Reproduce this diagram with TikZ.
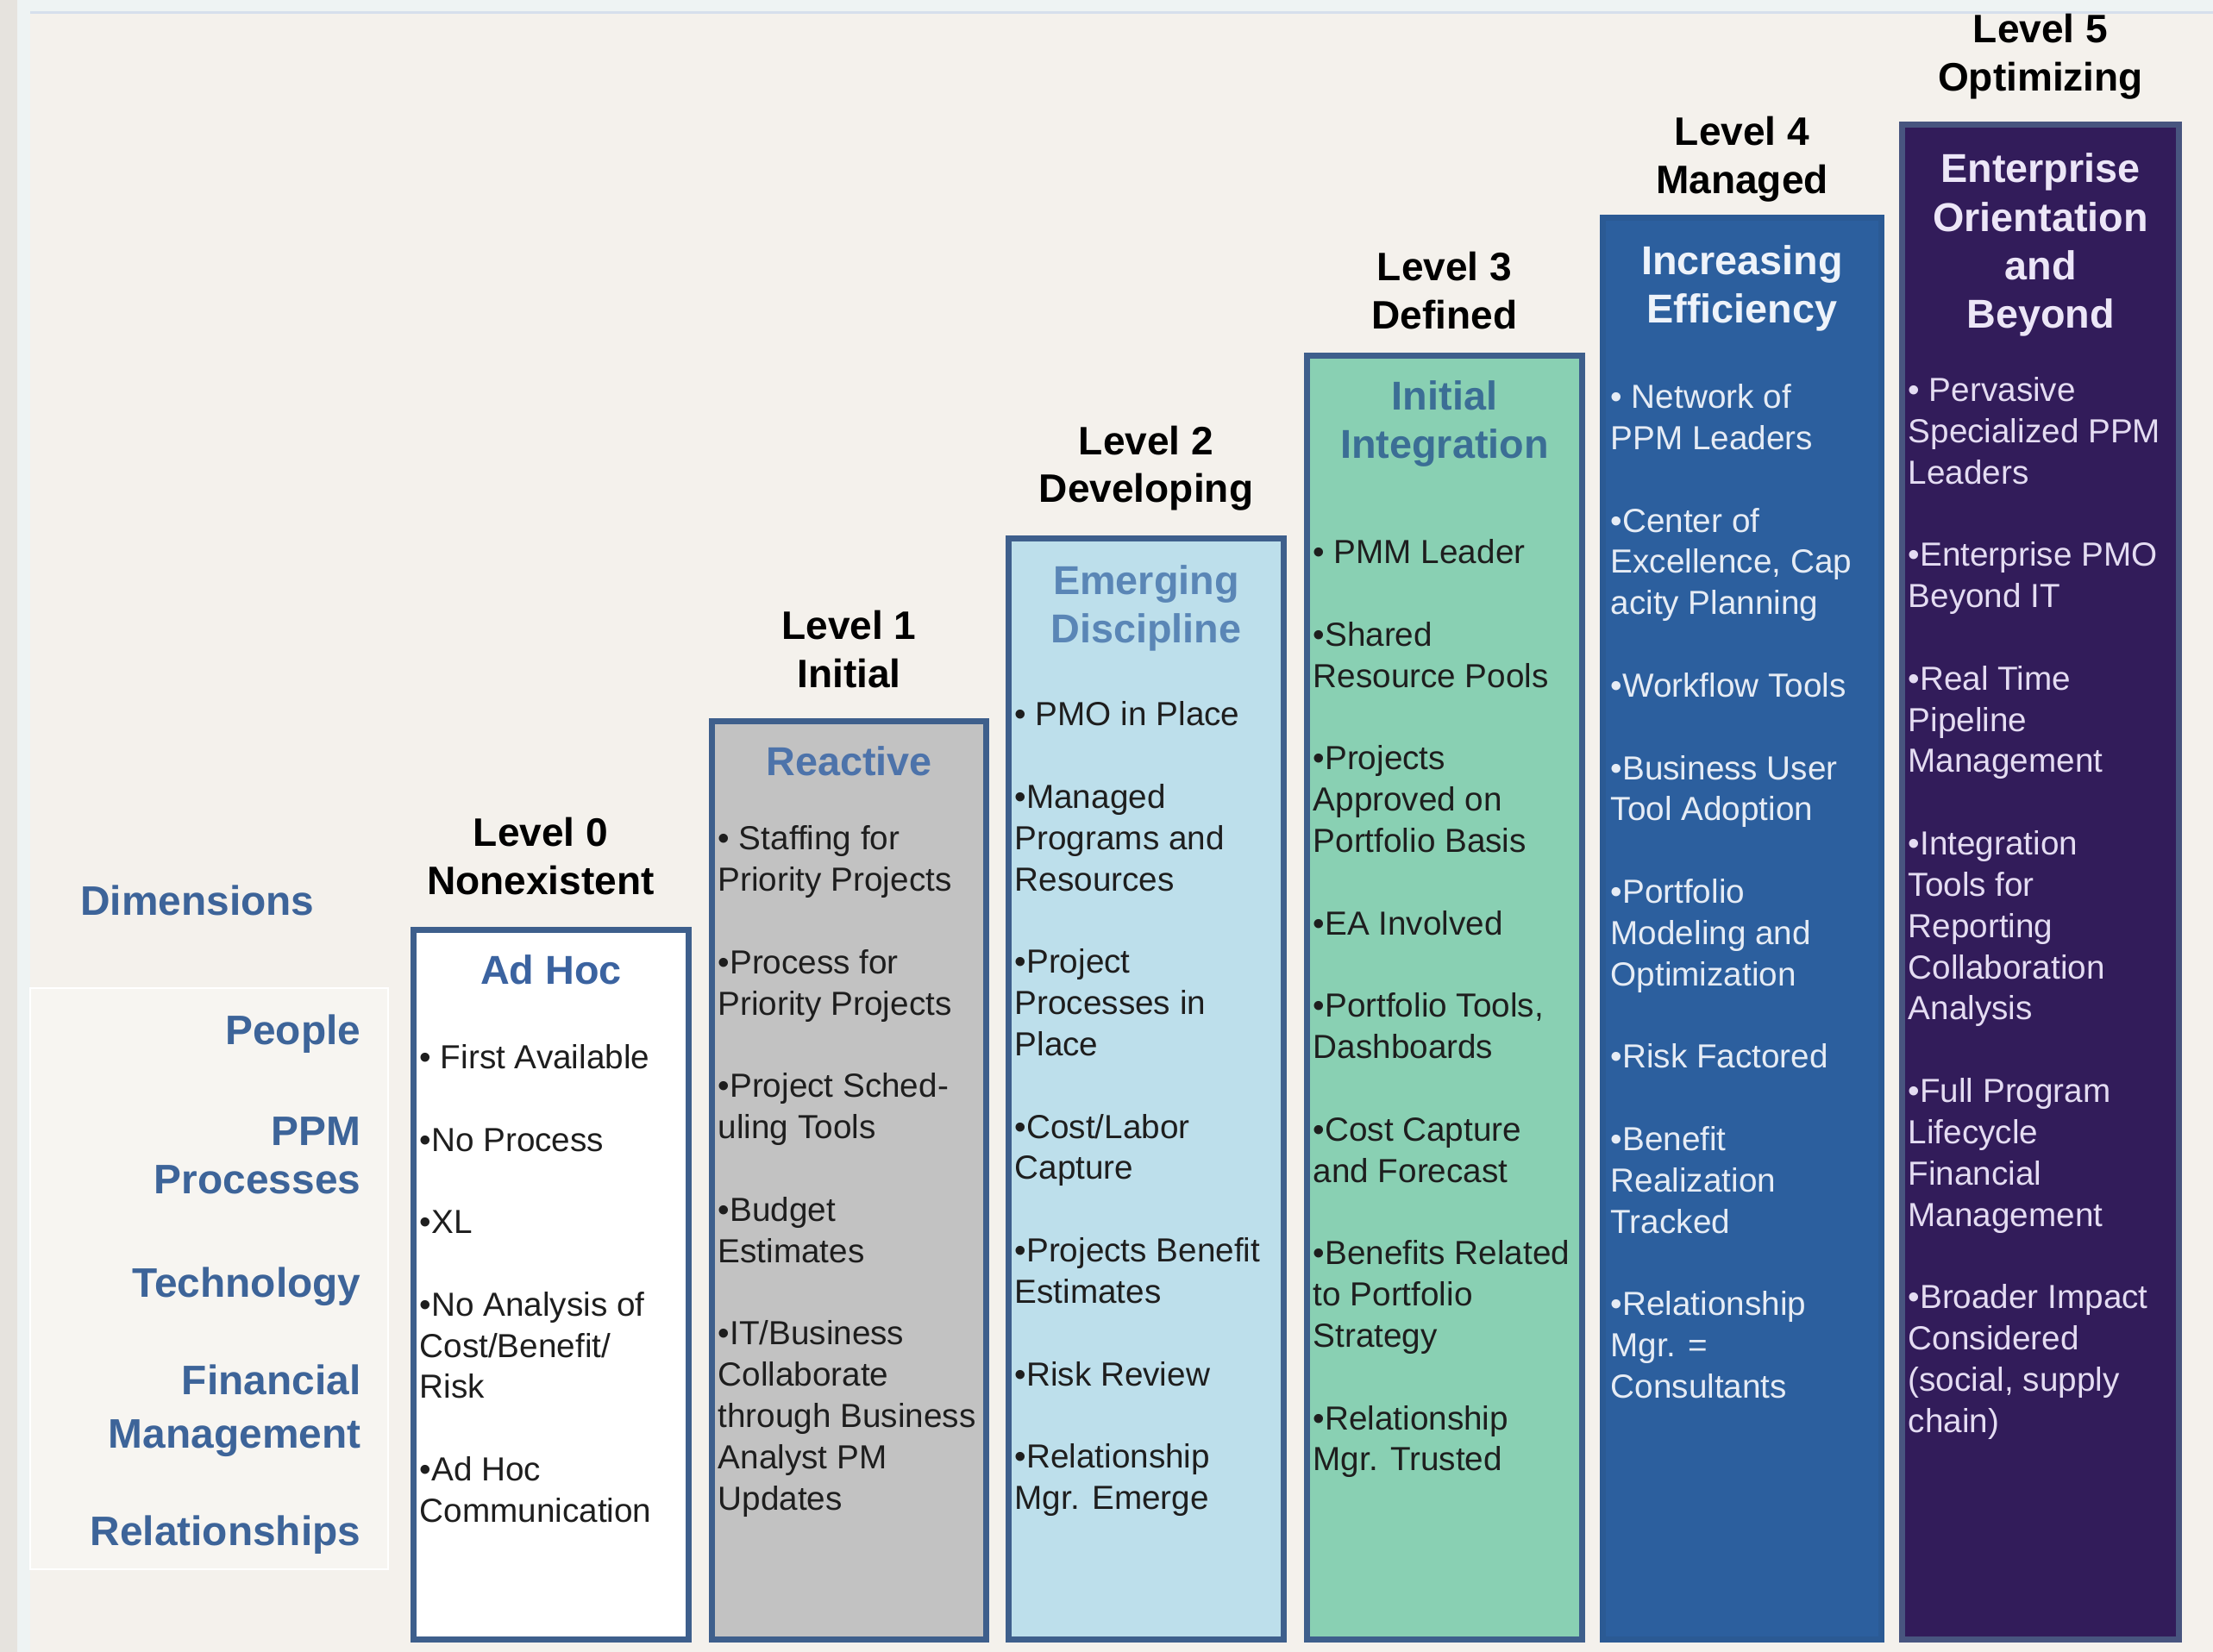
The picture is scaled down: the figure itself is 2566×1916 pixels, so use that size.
\documentclass[tikz,border=0pt]{standalone}
\usepackage{fontspec}
\setmainfont{Liberation Sans}
\definecolor{bgc}{HTML}{F4F1EC}
\definecolor{stripc}{HTML}{EEF3F3}
\definecolor{leftc}{HTML}{E6E3DE}
\definecolor{topline}{HTML}{D6DFEC}
\definecolor{panelc}{HTML}{F7F5F1}
\definecolor{bord}{HTML}{3E5F8C}
\definecolor{dimblue}{HTML}{3D6499}
\definecolor{fillA}{HTML}{C2C2C2}
\definecolor{fillB}{HTML}{BDDFEB}
\definecolor{fillC}{HTML}{89D0B3}
\definecolor{fillD}{HTML}{2C5F9E}
\definecolor{bordD}{HTML}{2B5A94}
\definecolor{fillE}{HTML}{321C5A}
\definecolor{bordE}{HTML}{48557F}
\definecolor{ttlA}{HTML}{3B63A0}
\definecolor{ttlB}{HTML}{4D73AA}
\definecolor{ttlC}{HTML}{5A86B6}
\definecolor{ttlD}{HTML}{3B6E95}
\definecolor{ttlE}{HTML}{EEF3FA}
\definecolor{ttlF}{HTML}{ECE6F7}
\definecolor{bodydark}{HTML}{1E1E1E}
\definecolor{bodyD}{HTML}{E6ECF5}
\definecolor{bodyE}{HTML}{E4DCF2}
\begin{document}
\begin{tikzpicture}[x=0.01cm,y=-0.01cm,
  lvl/.style={anchor=north, align=center, inner sep=0pt, font=\fontsize{13.1}{15.8}\selectfont\bfseries, text=black},
  ttl/.style={anchor=north, align=center, inner sep=0pt, font=\fontsize{13.3}{16}\selectfont\bfseries},
  body/.style={anchor=north west, align=left, inner sep=0pt, font=\fontsize{11}{13.6}\selectfont},
  dim/.style={anchor=north east, align=right, inner sep=0pt, font=\fontsize{13.6}{16.2}\selectfont\bfseries, text=dimblue},
  colbox/.style={line width=2pt}]
\useasboundingbox (0,0) rectangle (2566,1916);
% background
\fill[bgc] (0,0) rectangle (2566,1916);
\fill[stripc] (0,0) rectangle (2566,14);
\fill[leftc] (0,0) rectangle (20,1916);
\fill[stripc] (20,0) rectangle (35,1916);
\draw[topline, line width=0.6pt] (35,14.5) -- (2566,14.5);
\draw[white, line width=0.6pt, fill=panelc] (35,1146) rectangle (450,1820);
% column boxes
\draw[colbox, draw=bord, fill=white] (479.5,1078.5) rectangle (798.5,1901.5);
\draw[colbox, draw=bord, fill=fillA] (825.5,836.5) rectangle (1143.5,1901.5);
\draw[colbox, draw=bord, fill=fillB] (1169.5,624.5) rectangle (1488.5,1901.5);
\draw[colbox, draw=bord, fill=fillC] (1515.5,412.5) rectangle (1834.5,1901.5);
\draw[colbox, draw=bordD, fill=fillD] (1858.5,252.5) rectangle (2181.5,1901.5);
\draw[colbox, draw=bordE, fill=fillE] (2205.5,144.5) rectangle (2526.5,1901.5);
% level headers
\node[lvl] (l0) at (627,939) {\rule{0pt}{12pt}Level 0\\Nonexistent};
\node[lvl] (l1) at (984.5,699) {\rule{0pt}{12pt}Level 1\\Initial};
\node[lvl] (l2) at (1329,484.4) {\rule{0pt}{12pt}Level 2\\Developing};
\node[lvl] (l3) at (1675,283.1) {\rule{0pt}{12pt}Level 3\\Defined};
\node[lvl] (l4) at (2020,126) {\rule{0pt}{12pt}Level 4\\Managed};
\node[lvl] (l5) at (2366,7) {\rule{0pt}{12pt}Level 5\\Optimizing};
% column titles
\node[ttl, text=ttlA] (t0) at (639,1098.8) {\rule{0pt}{12pt}Ad Hoc};
\node[ttl, text=ttlB] (t1) at (984.5,856.4) {\rule{0pt}{12pt}Reactive};
\node[ttl, text=ttlC] (t2) at (1329,646.8) {\rule{0pt}{12pt}Emerging\\Discipline};
\node[ttl, text=ttlD] (t3) at (1675,432.5) {\rule{0pt}{12pt}Initial\\Integration};
\node[ttl, text=ttlE] (t4) at (2020,275.4) {\rule{0pt}{12pt}Increasing\\Efficiency};
\node[ttl, text=ttlF] (t5) at (2366,169) {\rule{0pt}{12pt}Enterprise\\Orientation\\and\\Beyond};
% column bodies
\node[body, text=bodydark] (b0) at (486,1203.5) {\rule{0pt}{10pt}• First Available\\[13.6pt]
•No Process\\[13.6pt]
•XL\\[13.6pt]
•No Analysis of\\
Cost/Benefit/\\
Risk\\[13.6pt]
•Ad Hoc\\
Communication};
\node[body, text=bodydark] (b1) at (832,950) {\rule{0pt}{10pt}• Staffing for\\
Priority Projects\\[13.6pt]
•Process for\\
Priority Projects\\[13.6pt]
•Project Sched-\\
uling Tools\\[13.6pt]
•Budget\\
Estimates\\[13.6pt]
•IT/Business\\
Collaborate\\
through Business\\
Analyst PM\\
Updates};
\node[body, text=bodydark] (b2) at (1176,806) {\rule{0pt}{10pt}• PMO in Place\\[13.6pt]
•Managed\\
Programs and\\
Resources\\[13.6pt]
•Project\\
Processes in\\
Place\\[13.6pt]
•Cost/Labor\\
Capture\\[13.6pt]
•Projects Benefit\\
Estimates\\[13.6pt]
•Risk Review\\[13.6pt]
•Relationship\\
Mgr. Emerge};
\node[body, text=bodydark] (b3) at (1522,617.8) {\rule{0pt}{10pt}• PMM Leader\\[13.6pt]
•Shared\\
Resource Pools\\[13.6pt]
•Projects\\
Approved on\\
Portfolio Basis\\[13.6pt]
•EA Involved\\[13.6pt]
•Portfolio Tools,\\
Dashboards\\[13.6pt]
•Cost Capture\\
and Forecast\\[13.6pt]
•Benefits Related\\
to Portfolio\\
Strategy\\[13.6pt]
•Relationship\\
Mgr. Trusted};
\node[body, text=bodyD] (b4) at (1867,437.8) {\rule{0pt}{10pt}• Network of\\
PPM Leaders\\[13.6pt]
•Center of\\
Excellence, Cap\\
acity Planning\\[13.6pt]
•Workflow Tools\\[13.6pt]
•Business User\\
Tool Adoption\\[13.6pt]
•Portfolio\\
Modeling and\\
Optimization\\[13.6pt]
•Risk Factored\\[13.6pt]
•Benefit\\
Realization\\
Tracked\\[13.6pt]
•Relationship\\
Mgr. =\\
Consultants};
\node[body, text=bodyE] (b5) at (2212,429.6) {\rule{0pt}{10pt}• Pervasive\\
Specialized PPM\\
Leaders\\[13.6pt]
•Enterprise PMO\\
Beyond IT\\[13.6pt]
•Real Time\\
Pipeline\\
Management\\[13.6pt]
•Integration\\
Tools for\\
Reporting\\
Collaboration\\
Analysis\\[13.6pt]
•Full Program\\
Lifecycle\\
Financial\\
Management\\[13.6pt]
•Broader Impact\\
Considered\\
(social, supply\\
chain)};
% dimensions
\node[dim, anchor=north, align=center] (dh) at (229,1018.4) {\rule{0pt}{12pt}Dimensions};
\node[dim] (d1) at (419,1168.8) {\rule{0pt}{12pt}People};
\node[dim] (d2) at (419,1285.1) {\rule{0pt}{12pt}PPM\\Processes};
\node[dim] (d3) at (419,1461.8) {\rule{0pt}{12pt}Technology};
\node[dim, font=\fontsize{13.6}{17.6}\selectfont\bfseries] (d4) at (419,1574.8) {\rule{0pt}{12pt}Financial\\Management};
\node[dim] (d5) at (419,1749.8) {\rule{0pt}{12pt}Relationships};
\end{tikzpicture}
\end{document}
